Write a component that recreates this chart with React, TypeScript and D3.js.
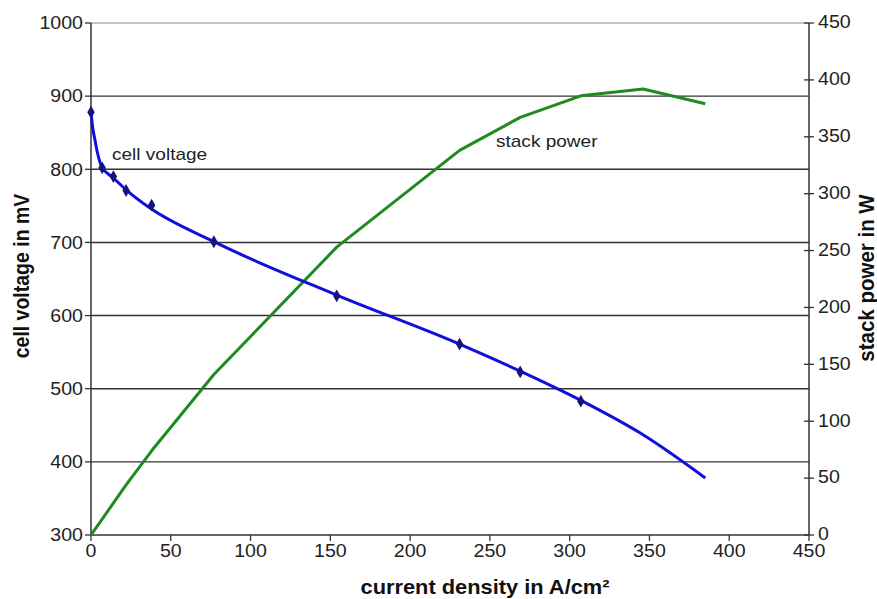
import React from "react";
import * as d3 from "d3";

const voltageTicks = [300, 400, 500, 600, 700, 800, 900, 1000];
const powerTicks = [0, 50, 100, 150, 200, 250, 300, 350, 400, 450];
const currentTicks = [0, 50, 100, 150, 200, 250, 300, 350, 400, 450];

// measured cell voltage markers
const markerCurrent = [0, 7, 14, 22, 38, 77, 154, 231, 269, 307];
const markerVoltage = [878, 802, 790, 771, 751, 701, 627, 561, 523, 483];

// cell voltage fitted line
const voltLineCurrent = [0, 1, 2.5, 4, 5.6, 7, 10, 14, 22, 37, 77, 154, 231, 269, 307, 346, 385];
const voltLineVoltage = [878, 858, 840, 823, 810, 802, 795, 788, 772, 747, 701, 628, 561, 524, 484, 437, 378];

// stack power
const powerCurrent = [0, 7, 14, 22, 38, 77, 154, 231, 269, 307, 346, 385];
const powerValues = [0, 14, 28, 44, 74, 141, 253, 338, 367, 386, 392, 379];

const W = 877;
const H = 599;
const L = 91;
const R = 809;
const T = 23;
const B = 535;
const FONT = "'Liberation Sans', Arial, Helvetica, sans-serif";
const SX = 1.12;

function SText(props: {
  x: number;
  y: number;
  anchor?: string;
  size: number;
  bold?: boolean;
  dy?: string;
  children: React.ReactNode;
}) {
  return (
    <g transform={`translate(${props.x},${props.y}) scale(${SX},1)`}>
      <text
        x={0}
        y={0}
        dy={props.dy}
        textAnchor={props.anchor || "start"}
        fontSize={props.size}
        fontWeight={props.bold ? "bold" : "normal"}
        fill={props.bold ? "#111" : "#222"}
      >
        {props.children}
      </text>
    </g>
  );
}

export default function App() {
  const x = d3.scaleLinear().domain([0, 450]).range([L, R]);
  const yV = d3.scaleLinear().domain([300, 1000]).range([B, T]);
  const yP = d3.scaleLinear().domain([0, 450]).range([B, T]);

  const voltLine = d3
    .line<number>()
    .x((_, i) => x(voltLineCurrent[i]))
    .y((d) => yV(d))
    .curve(d3.curveMonotoneX);
  const powerLine = d3
    .line<number>()
    .x((_, i) => x(powerCurrent[i]))
    .y((d) => yP(d));

  const diamond = d3.symbol().type(d3.symbolDiamond).size(48)() as string;

  return (
    <svg
      width={W}
      height={H}
      style={{ position: "absolute", left: 0, top: 0, background: "#fff" }}
      fontFamily={FONT}
    >
      <rect x={0} y={0} width={W} height={H} fill="#fff" />
      {/* gridlines */}
      {voltageTicks
        .filter((v) => v > 300)
        .map((v) => (
          <line
            key={"g" + v}
            x1={L}
            x2={R}
            y1={yV(v)}
            y2={yV(v)}
            stroke={v === 1000 ? "#8a8a8a" : "#333"}
            strokeWidth={v === 1000 ? 1.2 : 1.4}
          />
        ))}
      {/* axes */}
      <line x1={L} x2={L} y1={T} y2={B} stroke="#333" strokeWidth={1.5} />
      <line x1={R} x2={R} y1={T} y2={B} stroke="#333" strokeWidth={1.5} />
      <line x1={L} x2={R} y1={B} y2={B} stroke="#333" strokeWidth={1.5} />
      {/* left ticks */}
      {voltageTicks.map((v) => (
        <g key={"lv" + v}>
          <line x1={L - 6} x2={L} y1={yV(v)} y2={yV(v)} stroke="#333" strokeWidth={1.3} />
          <SText x={L - 8} y={yV(v)} dy="0.36em" anchor="end" size={17.5}>
            {v}
          </SText>
        </g>
      ))}
      {/* right ticks */}
      {powerTicks.map((v) => (
        <g key={"rp" + v}>
          <line x1={R - 5} x2={R + 5} y1={yP(v)} y2={yP(v)} stroke="#333" strokeWidth={1.3} />
          <SText x={R + 9} y={yP(v) - 1} dy="0.36em" size={17.5}>
            {v}
          </SText>
        </g>
      ))}
      {/* bottom ticks */}
      {currentTicks.map((v) => (
        <g key={"bx" + v}>
          <line x1={x(v)} x2={x(v)} y1={B} y2={B + 6} stroke="#333" strokeWidth={1.3} />
          <SText x={x(v)} y={B + 22} anchor="middle" size={17.5}>
            {v}
          </SText>
        </g>
      ))}
      {/* series */}
      <path d={powerLine(powerValues) || ""} fill="none" stroke="#1f8a1f" strokeWidth={3} strokeLinejoin="round" />
      <path d={voltLine(voltLineVoltage) || ""} fill="none" stroke="#1010dd" strokeWidth={3} strokeLinejoin="round" />
      {markerVoltage.map((v, i) => (
        <path
          key={"m" + i}
          d={diamond}
          transform={`translate(${x(markerCurrent[i])},${yV(v)})`}
          fill="#14147a"
        />
      ))}
      {/* labels */}
      <SText x={112} y={160} size={17}>cell voltage</SText>
      <SText x={496} y={147} size={17}>stack power</SText>
      {/* axis titles */}
      <g transform={`translate(29,276) scale(${SX},1) rotate(-90)`}>
        <text textAnchor="middle" fontSize={19.5} fontWeight="bold" fill="#111">
          cell voltage in mV
        </text>
      </g>
      <g transform={`translate(874,278) scale(${SX},1) rotate(-90)`}>
        <text textAnchor="middle" fontSize={20.5} fontWeight="bold" fill="#111">
          stack power in W
        </text>
      </g>
      <SText x={485} y={594} anchor="middle" size={19.5} bold>
        current density in A/cm²
      </SText>
    </svg>
  );
}
